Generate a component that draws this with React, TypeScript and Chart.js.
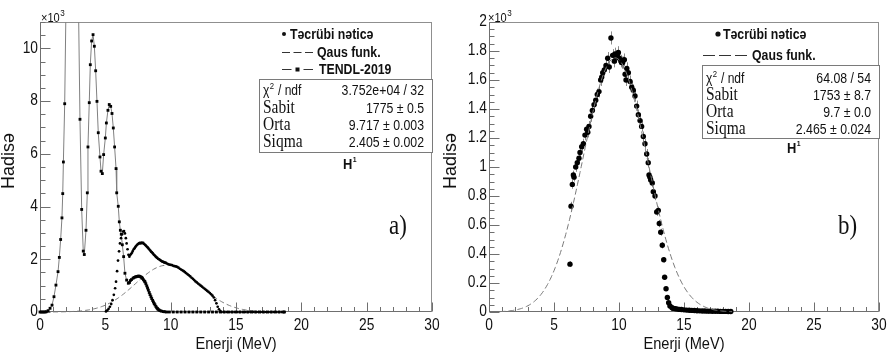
import { useEffect, useRef } from "react";
import { Chart, registerables } from "chart.js";

Chart.register(...registerables);

// ---- axes ----
const X_TICKS = [0, 5, 10, 15, 20, 25, 30];
const LEFT_Y_TICKS = [0, 2, 4, 6, 8, 10];
const RIGHT_Y_TICKS = [0, 0.2, 0.4, 0.6, 0.8, 1, 1.2, 1.4, 1.6, 1.8, 2];

// ---- panel a): counts in units of 10^3, energy in MeV ----
const TENDL_2019: [number, number][] = [
  [0.0, 0], [0.1, 0], [0.2, 0], [0.3, 0], [0.4, 0], [0.48, 0.01], [0.62, 0.05], [0.77, 0.14],
  [0.92, 0.26], [1.07, 0.58], [1.22, 1.02], [1.38, 1.53], [1.48, 2.07], [1.58, 2.75], [1.68, 3.57],
  [1.74, 4.49], [1.79, 5.69], [1.89, 7.9], [2.02, 12.8], [2.5, 19.5], [2.93, 12.2], [3.06, 7.31],
  [3.19, 3.89], [3.31, 2.31], [3.39, 2.18], [3.52, 3.1], [3.62, 4.52], [3.67, 6.26], [3.77, 7.94],
  [3.85, 9.38], [3.95, 10.28], [4.06, 10.52], [4.16, 10.08], [4.26, 9.15], [4.36, 7.99], [4.46, 6.8],
  [4.59, 5.88], [4.67, 5.34], [4.77, 5.25], [4.87, 5.97], [5.0, 6.6], [5.08, 7.17], [5.2, 7.65],
  [5.3, 7.87], [5.41, 7.8], [5.51, 7.53], [5.61, 6.98], [5.71, 6.26], [5.82, 5.44], [5.87, 4.52],
  [5.99, 4.01], [6.07, 3.42], [6.15, 3.1], [6.22, 2.95], [6.3, 2.55], [6.4, 2.1], [6.5, 1.47],
  [6.63, 1.21], [6.76, 1.09], [6.85, 1.12], [6.91, 1.19], [7.0, 1.23], [7.12, 1.28], [7.2, 1.31],
  [7.3, 1.33], [7.37, 1.34], [7.45, 1.35], [7.52, 1.36], [7.58, 1.36], [7.65, 1.35], [7.72, 1.33],
  [7.78, 1.31], [7.85, 1.27], [7.92, 1.22], [8.0, 1.17], [8.04, 1.14], [8.1, 1.07], [8.17, 0.99],
  [8.23, 0.91], [8.29, 0.83], [8.36, 0.74], [8.42, 0.66], [8.49, 0.58], [8.55, 0.51], [8.62, 0.44],
  [8.68, 0.38], [8.74, 0.32], [8.8, 0.27], [8.87, 0.21], [8.93, 0.16], [9.0, 0.12], [9.05, 0.1],
  [9.12, 0.07], [9.2, 0.05], [9.31, 0.03], [9.45, 0.015], [9.55, 0.008], [9.69, 0],
  [9.9, 0], [10.2, 0], [10.5, 0], [10.8, 0], [11.1, 0], [11.4, 0], [11.7, 0], [12.0, 0], [12.3, 0],
  [12.6, 0], [12.9, 0], [13.2, 0], [13.5, 0], [13.8, 0], [14.1, 0], [14.4, 0], [14.7, 0], [15.0, 0],
  [15.3, 0], [15.6, 0], [15.9, 0], [16.2, 0], [16.5, 0], [16.8, 0], [17.1, 0], [17.4, 0], [17.7, 0],
  [18.0, 0], [18.3, 0], [18.6, 0], [18.7, 0],
];

const EXPERIMENT_A: [number, number][] = [
  [5.05, 0.02], [5.15, 0.06], [5.25, 0.12], [5.35, 0.2], [5.45, 0.3], [5.55, 0.45], [5.65, 0.65],
  [5.75, 0.9], [5.82, 1.15], [5.9, 1.55], [5.97, 1.95], [6.05, 2.3], [6.12, 2.6], [6.2, 2.8],
  [6.28, 2.95], [6.36, 3.05], [6.43, 3.07], [6.5, 2.98], [6.57, 2.8], [6.63, 2.6], [6.7, 2.38],
  [6.77, 2.17], [6.84, 2.1], [6.9, 2.16], [6.97, 2.2], [7.04, 2.25], [7.1, 2.31], [7.17, 2.38],
  [7.24, 2.42], [7.3, 2.47], [7.37, 2.51], [7.44, 2.55], [7.5, 2.58], [7.57, 2.6], [7.64, 2.62],
  [7.7, 2.6], [7.77, 2.63], [7.84, 2.61], [7.9, 2.62], [7.97, 2.58], [8.04, 2.55], [8.1, 2.52],
  [8.17, 2.48], [8.24, 2.45], [8.3, 2.41], [8.37, 2.37], [8.44, 2.33], [8.5, 2.29], [8.57, 2.26],
  [8.64, 2.22], [8.7, 2.18], [8.77, 2.15], [8.84, 2.11], [8.9, 2.08], [8.97, 2.05], [9.04, 2.02],
  [9.1, 2.0], [9.17, 1.98], [9.24, 1.95], [9.3, 1.93], [9.37, 1.91], [9.44, 1.9], [9.5, 1.88],
  [9.57, 1.87], [9.64, 1.86], [9.7, 1.84], [9.8, 1.82], [9.9, 1.8], [10.0, 1.79], [10.1, 1.78],
  [10.2, 1.75], [10.3, 1.74], [10.4, 1.73], [10.5, 1.71], [10.6, 1.68], [10.7, 1.64], [10.8, 1.61],
  [10.9, 1.58], [11.0, 1.55], [11.1, 1.51], [11.2, 1.47], [11.3, 1.43], [11.4, 1.39], [11.5, 1.35],
  [11.6, 1.3], [11.7, 1.26], [11.8, 1.21], [11.9, 1.16], [12.0, 1.12], [12.1, 1.08], [12.2, 1.04],
  [12.3, 1.0], [12.4, 0.96], [12.5, 0.92], [12.6, 0.88], [12.7, 0.84], [12.8, 0.8], [12.9, 0.76],
  [13.0, 0.72], [13.1, 0.67], [13.2, 0.62], [13.3, 0.55], [13.4, 0.45], [13.5, 0.33], [13.6, 0.2],
  [13.7, 0.1], [13.8, 0.03], [13.9, 0], [14.1, 0], [14.3, 0], [14.5, 0], [14.7, 0], [14.9, 0],
  [15.1, 0], [15.3, 0], [15.5, 0], [15.7, 0], [15.9, 0], [16.1, 0], [16.3, 0], [16.5, 0], [16.7, 0],
  [16.9, 0], [17.1, 0], [17.3, 0], [17.5, 0], [17.7, 0], [17.9, 0], [18.1, 0], [18.3, 0], [18.5, 0],
  [18.7, 0],
];

// Gaussian fit of panel a)
const FIT_A_CONST = 1775;
const FIT_A_MEAN = 9.717;
const FIT_A_SIGMA = 2.405;
const FIT_A_RANGE = [1.0, 18.7];
const STATS_A_VALUES = ["3.752e+04 / 32", "1775 \u00b1 0.5", "9.717 \u00b1 0.003", "2.405 \u00b1 0.002"];

// ---- panel b): [energy MeV, counts 10^3, error 10^3] ----
const EXPERIMENT_B: [number, number, number][] = [
  [6.23, 0.33, 0.02], [6.31, 0.73, 0.03], [6.41, 0.88, 0.03], [6.49, 0.945, 0.03], [6.54, 0.93, 0.03],
  [6.67, 1.0, 0.033], [6.79, 1.03, 0.033], [6.92, 1.06, 0.033], [7.0, 1.1, 0.035], [7.13, 1.14, 0.035],
  [7.26, 1.16, 0.035], [7.38, 1.22, 0.036], [7.51, 1.26, 0.036], [7.6, 1.24, 0.036], [7.69, 1.28, 0.037],
  [7.82, 1.35, 0.038], [7.95, 1.39, 0.038], [8.08, 1.43, 0.039], [8.21, 1.46, 0.039], [8.33, 1.5, 0.04],
  [8.46, 1.52, 0.04], [8.59, 1.6, 0.041], [8.67, 1.62, 0.041], [8.75, 1.65, 0.042], [8.87, 1.67, 0.042],
  [9.0, 1.7, 0.042], [9.13, 1.75, 0.043], [9.25, 1.69, 0.042], [9.38, 1.89, 0.045], [9.51, 1.77, 0.043],
  [9.64, 1.73, 0.043], [9.69, 1.78, 0.043], [9.77, 1.76, 0.043], [9.9, 1.78, 0.043], [9.95, 1.79, 0.043],
  [10.02, 1.75, 0.043], [10.15, 1.73, 0.043], [10.2, 1.72, 0.042], [10.28, 1.72, 0.042], [10.41, 1.74, 0.043],
  [10.47, 1.64, 0.041], [10.54, 1.6, 0.041], [10.6, 1.68, 0.042], [10.72, 1.65, 0.041], [10.85, 1.59, 0.041],
  [10.98, 1.55, 0.04], [11.1, 1.53, 0.04], [11.23, 1.49, 0.039], [11.36, 1.42, 0.038], [11.49, 1.36, 0.037],
  [11.62, 1.32, 0.037], [11.74, 1.28, 0.036], [11.87, 1.21, 0.035], [12.0, 1.16, 0.035], [12.13, 1.09, 0.034],
  [12.25, 1.03, 0.033], [12.31, 0.945, 0.031], [12.38, 0.93, 0.031], [12.44, 0.91, 0.031], [12.56, 0.89, 0.03],
  [12.64, 0.83, 0.029], [12.77, 0.8, 0.029], [12.9, 0.69, 0.027], [13.02, 0.7, 0.027], [13.1, 0.61, 0.025],
  [13.21, 0.55, 0.024], [13.33, 0.46, 0.022], [13.44, 0.36, 0.019], [13.51, 0.24, 0.016], [13.62, 0.16, 0.013],
  [13.72, 0.1, 0.01], [13.82, 0.064, 0.008], [13.92, 0.041, 0.006], [14.08, 0.03, 0.005], [14.2, 0.025, 0.005],
  [14.35, 0.022, 0.005], [14.5, 0.02, 0.004], [14.65, 0.018, 0.004], [14.8, 0.017, 0.004], [15.0, 0.015, 0.004],
  [15.2, 0.013, 0.004], [15.4, 0.012, 0.003], [15.6, 0.011, 0.003], [15.8, 0.01, 0.003], [16.0, 0.009, 0.003],
  [16.2, 0.008, 0.003], [16.4, 0.007, 0.003], [16.6, 0.007, 0.003], [16.8, 0.006, 0.002], [17.0, 0.006, 0.002],
  [17.2, 0.005, 0.002], [17.4, 0.005, 0.002], [17.6, 0.005, 0.002], [17.8, 0.004, 0.002], [18.0, 0.004, 0.002],
  [18.2, 0.004, 0.002], [18.4, 0.003, 0.002], [18.6, 0.003, 0.002],
];

// Gaussian fit of panel b)
const FIT_B_CONST = 1753;
const FIT_B_MEAN = 9.7;
const FIT_B_SIGMA = 2.465;
const FIT_B_RANGE = [0.8, 18.7];
const STATS_B_VALUES = ["64.08 / 54", "1753 \u00b1 8.7", "9.7 \u00b1 0.0", "2.465 \u00b1 0.024"];

const STAT_NAMES = ["Sabit", "Orta", "Siqma"];

// ---- styling ----
const SANS = '"Liberation Sans", Arial, Helvetica, sans-serif';
const SERIF = '"Liberation Serif", "Times New Roman", serif';
const SQUEEZE = 0.86;
const FRAME_COLOR = "#8f8f8f";
const TICK_COLOR = "#6f6f6f";
const FIT_COLOR = "#7a7a7a";
const CANVAS_H = 356;
const LEFT_W = 440;
const RIGHT_W = 452;

// Sample the fitted Gaussian curve (the fit function itself) over its range.
function gaussCurve(c: number, mean: number, sigma: number, range: number[]) {
  const pts: { x: number; y: number }[] = [];
  for (let e = range[0]; e <= range[1] + 1e-9; e += 0.1) {
    pts.push({ x: e, y: (c * Math.exp(-0.5 * ((e - mean) / sigma) ** 2)) / 1000 });
  }
  return pts;
}

function text(
  ctx: CanvasRenderingContext2D,
  s: string,
  x: number,
  y: number,
  font: string,
  align: CanvasTextAlign = "left",
  baseline: CanvasTextBaseline = "alphabetic",
  sx = SQUEEZE
) {
  ctx.save();
  ctx.font = font;
  ctx.textAlign = align;
  ctx.textBaseline = baseline;
  ctx.translate(x, y);
  ctx.scale(sx, 1);
  ctx.fillText(s, 0, 0);
  const w = ctx.measureText(s).width * sx;
  ctx.restore();
  return w;
}

type AxisSpec = {
  yTicks: number[];
  yMinor: number;
  yMax: number;
  yTitleX: number;
};

function axesPlugin(spec: AxisSpec) {
  return {
    id: "rootAxes",
    beforeDatasetsDraw(chart: any) {
      const { ctx, chartArea: a } = chart;
      const xs = chart.scales.x;
      const ys = chart.scales.y;
      const L = Math.round(a.left) + 0.5;
      const R = Math.round(a.right) - 0.5;
      const T = Math.round(a.top) + 0.5;
      const B = Math.round(a.bottom) - 0.5;
      ctx.save();
      ctx.lineWidth = 1;
      ctx.strokeStyle = FRAME_COLOR;
      ctx.strokeRect(L, T, R - L, B - T);
      ctx.strokeStyle = TICK_COLOR;
      ctx.beginPath();
      ctx.moveTo(L, B);
      ctx.lineTo(R, B);
      ctx.moveTo(L, B);
      ctx.lineTo(L, T);
      for (let v = 0; v <= 30; v += 1) {
        const px = Math.round(xs.getPixelForValue(v)) + 0.5;
        const len = v % 5 === 0 ? 9 : 4.5;
        ctx.moveTo(px, B);
        ctx.lineTo(px, B - len);
      }
      const nMinor = Math.round(spec.yMax / spec.yMinor);
      for (let i = 0; i <= nMinor; i++) {
        const v = i * spec.yMinor;
        const py = Math.round(ys.getPixelForValue(v)) + 0.5;
        const major = spec.yTicks.some((t) => Math.abs(t - v) < 1e-6);
        ctx.moveTo(L, py);
        ctx.lineTo(L + (major ? 10 : 5), py);
      }
      ctx.stroke();
      ctx.restore();
    },
    afterDraw(chart: any) {
      const { ctx, chartArea: a } = chart;
      const xs = chart.scales.x;
      const ys = chart.scales.y;
      ctx.save();
      ctx.fillStyle = "#111";
      for (const v of X_TICKS) {
        text(ctx, String(v), xs.getPixelForValue(v), a.bottom + 17.5, `16px ${SANS}`, "center");
      }
      for (const v of spec.yTicks) {
        text(ctx, String(+v.toFixed(2)), a.left - 2, ys.getPixelForValue(v), `16px ${SANS}`, "right", "middle");
      }
      text(ctx, "Enerji (MeV)", (a.left + a.right) / 2, 349, `17px ${SANS}`, "center");
      ctx.save();
      ctx.translate(spec.yTitleX, 161);
      ctx.rotate(-Math.PI / 2);
      text(ctx, "Hadis\u0259", 0, 0, `18px ${SANS}`, "center", "middle", 1);
      ctx.restore();
      ctx.restore();
    },
  };
}

type NoteSpec = {
  expX: number;
  legendDot: [number, number, number];
  legendRows: { kind: "dot" | "dash" | "tendl"; y: number; textX: number; base: number; text: string; x0: number; x1: number; dash: number[] }[];
  box: [number, number, number, number];
  rows: number[];
  values: string[];
  valueX: number;
  labelX: number;
  h: [number, number];
  tag: string;
  tagPos: [number, number];
};

function notesPlugin(n: NoteSpec) {
  return {
    id: "rootNotes",
    afterDraw(chart: any) {
      const ctx: CanvasRenderingContext2D = chart.ctx;
      ctx.save();
      ctx.fillStyle = "#111";
      // exponent marker of the y axis
      const w = text(ctx, "\u00d710", n.expX, 21.5, `13px ${SANS}`, "left", "alphabetic", 0.85);
      text(ctx, "3", n.expX + w + 0.5, 16, `9px ${SANS}`, "left", "alphabetic", 0.9);

      // legend entries
      for (const r of n.legendRows) {
        ctx.strokeStyle = "#333";
        ctx.lineWidth = 1;
        if (r.kind === "dot") {
          ctx.beginPath();
          ctx.arc(n.legendDot[0], n.legendDot[1], n.legendDot[2], 0, Math.PI * 2);
          ctx.fill();
        } else if (r.kind === "dash") {
          ctx.setLineDash(r.dash);
          ctx.beginPath();
          ctx.moveTo(r.x0, r.y + 0.5);
          ctx.lineTo(r.x1, r.y + 0.5);
          ctx.stroke();
          ctx.setLineDash([]);
        } else {
          const mid = (r.x0 + r.x1) / 2;
          ctx.beginPath();
          ctx.moveTo(r.x0, r.y + 0.5);
          ctx.lineTo(mid - 6, r.y + 0.5);
          ctx.moveTo(mid + 6, r.y + 0.5);
          ctx.lineTo(r.x1, r.y + 0.5);
          ctx.stroke();
          ctx.fillRect(mid - 2, r.y - 1.5, 4, 4);
        }
        text(ctx, r.text, r.textX, r.base, `bold 15px ${SANS}`, "left", "alphabetic", 0.82);
      }

      // fit statistics box
      const [bx, by, bw, bh] = n.box;
      ctx.strokeStyle = "#7a7a7a";
      ctx.lineWidth = 1;
      ctx.fillStyle = "#fff";
      ctx.fillRect(bx, by, bw, bh);
      ctx.strokeRect(bx + 0.5, by + 0.5, bw - 1, bh - 1);
      ctx.fillStyle = "#111";
      const cw = text(ctx, "\u03c7", n.labelX, n.rows[0], `14px ${SANS}`);
      const sw = text(ctx, "2", n.labelX + cw + 0.5, n.rows[0] - 6, `9px ${SANS}`);
      text(ctx, " / ndf", n.labelX + cw + sw + 1, n.rows[0], `14px ${SANS}`);
      for (let i = 0; i < STAT_NAMES.length; i++) {
        text(ctx, STAT_NAMES[i], n.labelX, n.rows[i + 1], `18px ${SERIF}`, "left", "alphabetic", 0.86);
      }
      for (let i = 0; i < n.values.length; i++) {
        text(ctx, n.values[i], n.valueX, n.rows[i], `15px ${SANS}`, "right", "alphabetic", 0.82);
      }

      // isotope label and panel tag
      const hw = text(ctx, "H", n.h[0], n.h[1], `bold 15px ${SANS}`);
      text(ctx, "1", n.h[0] + hw + 0.5, n.h[1] - 7, `bold 8px ${SANS}`);
      text(ctx, n.tag, n.tagPos[0], n.tagPos[1], `27px ${SERIF}`, "left", "alphabetic", 0.85);
      ctx.restore();
    },
  };
}

function errorBars(points: [number, number, number][]) {
  return {
    id: "errorBars",
    beforeDatasetsDraw(chart: any) {
      const { ctx } = chart;
      const xs = chart.scales.x;
      const ys = chart.scales.y;
      ctx.save();
      ctx.strokeStyle = "#8a8a8a";
      ctx.lineWidth = 1;
      ctx.beginPath();
      for (const [e, n, err] of points) {
        const px = Math.round(xs.getPixelForValue(e)) + 0.5;
        ctx.moveTo(px, ys.getPixelForValue(n + err));
        ctx.lineTo(px, ys.getPixelForValue(n - err));
      }
      ctx.stroke();
      ctx.restore();
    },
  };
}

function baseOptions(yMax: number, yWidth: number, padRight: number) {
  return {
    responsive: false,
    animation: false as const,
    devicePixelRatio: 1,
    events: [] as any[],
    layout: { padding: { left: 0, right: padRight, top: 22, bottom: 0 } },
    plugins: { legend: { display: false }, tooltip: { enabled: false } },
    scales: {
      x: {
        type: "linear" as const,
        min: 0,
        max: 30,
        grid: { display: false },
        border: { display: false },
        ticks: { display: false },
        afterFit: (s: any) => {
          s.height = CANVAS_H - 312;
        },
      },
      y: {
        type: "linear" as const,
        min: 0,
        max: yMax,
        grid: { display: false },
        border: { display: false },
        ticks: { display: false },
        afterFit: (s: any) => {
          s.width = yWidth;
        },
      },
    },
  };
}

const CLIP = { left: 4, right: 4, top: 0, bottom: 4 };

function makePanelA(canvas: HTMLCanvasElement) {
  return new Chart(canvas, {
    type: "scatter",
    data: {
      datasets: [
        {
          label: "Təcrübi nəticə",
          data: EXPERIMENT_A.map(([x, y]) => ({ x, y })),
          pointRadius: 1.35,
          pointBackgroundColor: "#000",
          pointBorderWidth: 0,
          showLine: false,
          order: 1,
          clip: CLIP,
        },
        {
          label: "TENDL-2019",
          data: TENDL_2019.map(([x, y]) => ({ x, y })),
          showLine: true,
          borderColor: "#808080",
          borderWidth: 1,
          pointStyle: "rect",
          pointRadius: 2,
          pointBackgroundColor: "#000",
          pointBorderWidth: 0,
          order: 2,
          clip: CLIP,
        },
        {
          label: "Qaus funk.",
          data: gaussCurve(FIT_A_CONST, FIT_A_MEAN, FIT_A_SIGMA, FIT_A_RANGE),
          showLine: true,
          borderColor: FIT_COLOR,
          borderWidth: 1,
          borderDash: [5, 3],
          pointRadius: 0,
          order: 3,
          clip: CLIP,
        },
      ],
    },
    options: baseOptions(11, 40, LEFT_W - 432) as any,
    plugins: [
      axesPlugin({ yTicks: LEFT_Y_TICKS, yMinor: 0.5, yMax: 11, yTitleX: 9 }),
      notesPlugin({
        expX: 41,
        legendDot: [284, 34, 2],
        legendRows: [
          { kind: "dot", y: 34, textX: 290, base: 39, text: "Təcrübi nəticə", x0: 0, x1: 0, dash: [] },
          { kind: "dash", y: 52, textX: 317, base: 57, text: "Qaus funk.", x0: 282, x1: 313, dash: [8, 3.5] },
          { kind: "tendl", y: 69, textX: 319, base: 74, text: "TENDL-2019", x0: 282, x1: 313, dash: [] },
        ],
        box: [259, 79, 174, 74],
        rows: [95, 113, 130, 147],
        values: STATS_A_VALUES,
        valueX: 424,
        labelX: 263,
        h: [343, 169],
        tag: "a)",
        tagPos: [389, 234],
      }),
    ],
  });
}

function makePanelB(canvas: HTMLCanvasElement) {
  const off = LEFT_W;
  return new Chart(canvas, {
    type: "scatter",
    data: {
      datasets: [
        {
          label: "Təcrübi nəticə",
          data: EXPERIMENT_B.map(([x, y]) => ({ x, y })),
          pointRadius: 2.7,
          pointBackgroundColor: "#000",
          pointBorderWidth: 0,
          showLine: false,
          order: 2,
          clip: CLIP,
        },
        {
          label: "Qaus funk.",
          data: gaussCurve(FIT_B_CONST, FIT_B_MEAN, FIT_B_SIGMA, FIT_B_RANGE),
          showLine: true,
          borderColor: FIT_COLOR,
          borderWidth: 1,
          borderDash: [6, 3],
          pointRadius: 0,
          order: 1,
          clip: CLIP,
        },
      ],
    },
    options: baseOptions(2, 489 - off, RIGHT_W - (879 - off)) as any,
    plugins: [
      axesPlugin({ yTicks: RIGHT_Y_TICKS, yMinor: 0.05, yMax: 2, yTitleX: 451 - off }),
      errorBars(EXPERIMENT_B),
      notesPlugin({
        expX: 488 - off,
        legendDot: [718 - off, 34, 2.6],
        legendRows: [
          { kind: "dot", y: 34, textX: 723 - off, base: 39, text: "Təcrübi nəticə", x0: 0, x1: 0, dash: [] },
          { kind: "dash", y: 55, textX: 752 - off, base: 60, text: "Qaus funk.", x0: 703 - off, x1: 748 - off, dash: [12, 4] },
        ],
        box: [702 - off, 65, 178, 74],
        rows: [83, 100, 117, 134],
        values: STATS_B_VALUES,
        valueX: 871 - off,
        labelX: 706 - off,
        h: [787 - off, 153],
        tag: "b)",
        tagPos: [838 - off, 234],
      }),
    ],
  });
}

function ChartCanvas({ make, width }: { make: (c: HTMLCanvasElement) => Chart; width: number }) {
  const ref = useRef<HTMLCanvasElement>(null);
  useEffect(() => {
    if (!ref.current) return;
    const chart = make(ref.current);
    return () => chart.destroy();
  }, [make]);
  return (
    <canvas
      ref={ref}
      width={width}
      height={CANVAS_H}
      style={{ display: "block", width, height: CANVAS_H }}
    />
  );
}

export default function App() {
  return (
    <div
      style={{
        position: "fixed",
        left: 0,
        top: 0,
        width: 892,
        height: 356,
        background: "#fff",
        display: "flex",
        overflow: "hidden",
      }}
    >
      <ChartCanvas make={makePanelA} width={LEFT_W} />
      <ChartCanvas make={makePanelB} width={RIGHT_W} />
    </div>
  );
}
